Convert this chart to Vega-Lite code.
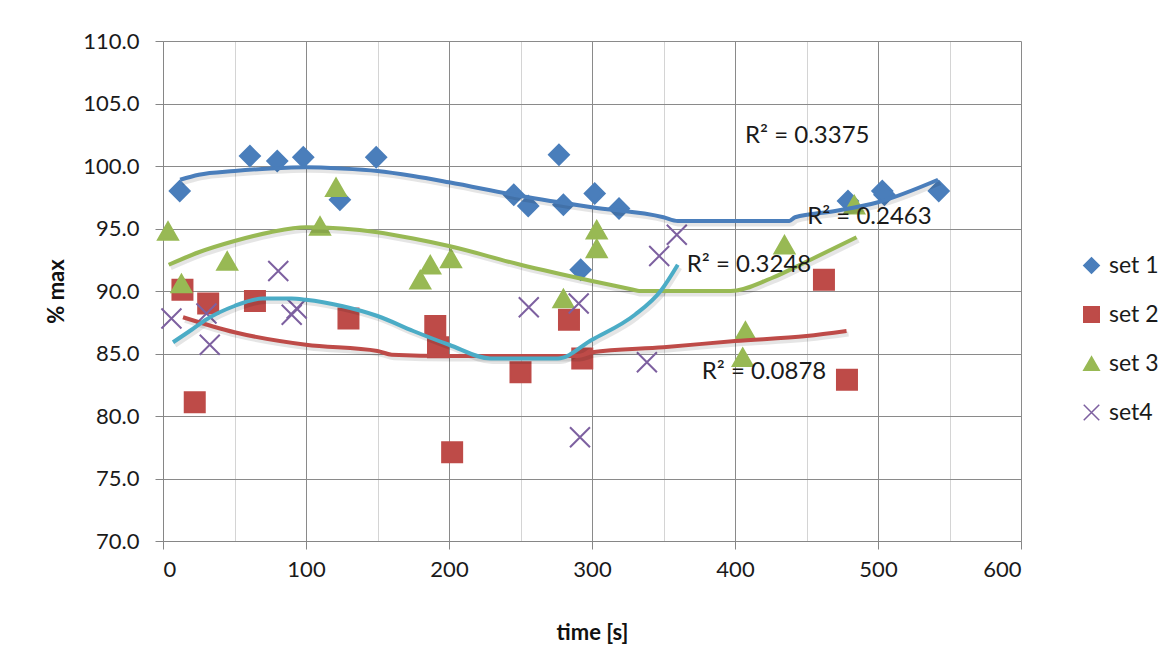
{
  "$schema": "https://vega.github.io/schema/vega-lite/v6.json",
  "autosize": {"type": "none"},
  "padding": {"left": 163, "top": 41, "right": 144, "bottom": 116},
  "width": 858,
  "height": 500,
  "background": "white",
  "config": {
    "view": {"stroke": null},
    "font": "Lato"
  },
  "datasets": {
    "points": [
      {"series": "set 1", "t": 11.7, "v": 98.0},
      {"series": "set 1", "t": 60.8, "v": 100.8},
      {"series": "set 1", "t": 79.9, "v": 100.4},
      {"series": "set 1", "t": 98.1, "v": 100.7},
      {"series": "set 1", "t": 123.7, "v": 97.3},
      {"series": "set 1", "t": 149.1, "v": 100.7},
      {"series": "set 1", "t": 245.3, "v": 97.7},
      {"series": "set 1", "t": 255.4, "v": 96.8},
      {"series": "set 1", "t": 276.9, "v": 100.9},
      {"series": "set 1", "t": 280.0, "v": 96.9},
      {"series": "set 1", "t": 292.1, "v": 91.7},
      {"series": "set 1", "t": 301.9, "v": 97.8},
      {"series": "set 1", "t": 318.9, "v": 96.6},
      {"series": "set 1", "t": 479.0, "v": 97.2},
      {"series": "set 1", "t": 503.0, "v": 98.0},
      {"series": "set 1", "t": 504.5, "v": 97.7},
      {"series": "set 1", "t": 542.5, "v": 98.0},
      {"series": "set 2", "t": 13.6, "v": 90.1},
      {"series": "set 2", "t": 22.2, "v": 81.1},
      {"series": "set 2", "t": 31.6, "v": 89.0},
      {"series": "set 2", "t": 64.3, "v": 89.2},
      {"series": "set 2", "t": 129.7, "v": 87.8},
      {"series": "set 2", "t": 190.4, "v": 87.2},
      {"series": "set 2", "t": 192.3, "v": 85.5},
      {"series": "set 2", "t": 202.2, "v": 77.1},
      {"series": "set 2", "t": 250.0, "v": 83.5},
      {"series": "set 2", "t": 283.9, "v": 87.7},
      {"series": "set 2", "t": 293.2, "v": 84.6},
      {"series": "set 2", "t": 462.2, "v": 90.9},
      {"series": "set 2", "t": 478.3, "v": 82.9},
      {"series": "set 3", "t": 3.5, "v": 94.8},
      {"series": "set 3", "t": 12.9, "v": 90.6},
      {"series": "set 3", "t": 44.9, "v": 92.4},
      {"series": "set 3", "t": 109.8, "v": 95.2},
      {"series": "set 3", "t": 121.0, "v": 98.3},
      {"series": "set 3", "t": 179.9, "v": 90.9},
      {"series": "set 3", "t": 186.9, "v": 92.1},
      {"series": "set 3", "t": 201.4, "v": 92.6},
      {"series": "set 3", "t": 280.0, "v": 89.4},
      {"series": "set 3", "t": 303.3, "v": 94.9},
      {"series": "set 3", "t": 303.3, "v": 93.4},
      {"series": "set 3", "t": 405.4, "v": 84.7},
      {"series": "set 3", "t": 407.3, "v": 86.8},
      {"series": "set 3", "t": 434.6, "v": 93.7},
      {"series": "set 3", "t": 483.4, "v": 96.9},
      {"series": "set4", "t": 5.9, "v": 87.8},
      {"series": "set4", "t": 30.4, "v": 88.2},
      {"series": "set4", "t": 32.7, "v": 85.7},
      {"series": "set4", "t": 80.6, "v": 91.6},
      {"series": "set4", "t": 90.0, "v": 88.1},
      {"series": "set4", "t": 93.5, "v": 88.6},
      {"series": "set4", "t": 255.8, "v": 88.7},
      {"series": "set4", "t": 290.7, "v": 89.0},
      {"series": "set4", "t": 291.6, "v": 78.3},
      {"series": "set4", "t": 338.4, "v": 84.3},
      {"series": "set4", "t": 347.0, "v": 92.8},
      {"series": "set4", "t": 359.3, "v": 94.5}
    ],
    "trends": [
      {"trend": "t1", "t": 12, "v": 98.9},
      {"trend": "t1", "t": 25, "v": 99.3},
      {"trend": "t1", "t": 50, "v": 99.6},
      {"trend": "t1", "t": 75, "v": 99.8},
      {"trend": "t1", "t": 100, "v": 99.9},
      {"trend": "t1", "t": 125, "v": 99.8},
      {"trend": "t1", "t": 150, "v": 99.6},
      {"trend": "t1", "t": 175, "v": 99.2},
      {"trend": "t1", "t": 200, "v": 98.7},
      {"trend": "t1", "t": 250, "v": 97.6},
      {"trend": "t1", "t": 300, "v": 96.7},
      {"trend": "t1", "t": 350, "v": 95.9},
      {"trend": "t1", "t": 360, "v": 95.6},
      {"trend": "t1", "t": 400, "v": 95.6},
      {"trend": "t1", "t": 438, "v": 95.6},
      {"trend": "t1", "t": 442, "v": 95.9},
      {"trend": "t1", "t": 470, "v": 96.4},
      {"trend": "t1", "t": 500, "v": 97.1},
      {"trend": "t1", "t": 542, "v": 98.9},
      {"trend": "t2", "t": 14, "v": 87.9},
      {"trend": "t2", "t": 50, "v": 86.7},
      {"trend": "t2", "t": 100, "v": 85.7},
      {"trend": "t2", "t": 150, "v": 85.2},
      {"trend": "t2", "t": 160, "v": 84.9},
      {"trend": "t2", "t": 200, "v": 84.8},
      {"trend": "t2", "t": 250, "v": 84.8},
      {"trend": "t2", "t": 290, "v": 84.8},
      {"trend": "t2", "t": 300, "v": 85.1},
      {"trend": "t2", "t": 350, "v": 85.5},
      {"trend": "t2", "t": 400, "v": 86.0},
      {"trend": "t2", "t": 450, "v": 86.4},
      {"trend": "t2", "t": 478, "v": 86.8},
      {"trend": "t3", "t": 4, "v": 92.1},
      {"trend": "t3", "t": 25, "v": 93.1},
      {"trend": "t3", "t": 50, "v": 94.0},
      {"trend": "t3", "t": 75, "v": 94.7},
      {"trend": "t3", "t": 100, "v": 95.1},
      {"trend": "t3", "t": 125, "v": 95.0},
      {"trend": "t3", "t": 150, "v": 94.7},
      {"trend": "t3", "t": 175, "v": 94.2},
      {"trend": "t3", "t": 200, "v": 93.6},
      {"trend": "t3", "t": 250, "v": 92.1},
      {"trend": "t3", "t": 300, "v": 90.8},
      {"trend": "t3", "t": 329, "v": 90.1},
      {"trend": "t3", "t": 333, "v": 90.0},
      {"trend": "t3", "t": 397, "v": 90.0},
      {"trend": "t3", "t": 425, "v": 91.0},
      {"trend": "t3", "t": 451, "v": 92.4},
      {"trend": "t3", "t": 485, "v": 94.3},
      {"trend": "t4", "t": 7, "v": 85.9},
      {"trend": "t4", "t": 20, "v": 86.9},
      {"trend": "t4", "t": 30, "v": 87.7},
      {"trend": "t4", "t": 50, "v": 88.8},
      {"trend": "t4", "t": 70, "v": 89.4},
      {"trend": "t4", "t": 90, "v": 89.4},
      {"trend": "t4", "t": 100, "v": 89.3},
      {"trend": "t4", "t": 125, "v": 88.8},
      {"trend": "t4", "t": 150, "v": 88.0},
      {"trend": "t4", "t": 175, "v": 86.8},
      {"trend": "t4", "t": 200, "v": 85.7},
      {"trend": "t4", "t": 229, "v": 84.6},
      {"trend": "t4", "t": 276, "v": 84.6},
      {"trend": "t4", "t": 300, "v": 86.1},
      {"trend": "t4", "t": 330, "v": 88.1},
      {"trend": "t4", "t": 348, "v": 90.0},
      {"trend": "t4", "t": 360, "v": 92.1}
    ],
    "labels": [
      {"t": 450.5, "v": 102.4, "label": "R² = 0.3375"},
      {"t": 494, "v": 95.9, "label": "R² = 0.2463"},
      {"t": 409.8, "v": 92.1, "label": "R² = 0.3248"},
      {"t": 420.3, "v": 83.5, "label": "R² = 0.0878"}
    ]
  },
  "encoding": {
    "x": {
      "field": "t", "type": "quantitative",
      "scale": {"domain": [0, 600], "nice": false, "zero": false},
      "axis": {
        "title": "time [s]",
        "values": [0, 50, 100, 150, 200, 250, 300, 350, 400, 450, 500, 550, 600],
        "format": "d",
        "labelExpr": "datum.value % 100 === 0 ? datum.label : ''",
        "labelFont": "Lato", "labelFontSize": 22, "labelColor": "#1a1a1a",
        "labelPadding": 10,
        "tickSize": 8, "tickColor": "#868686",
        "tickOpacity": {"condition": {"test": "datum.value % 100 === 0", "value": 1}, "value": 0},
        "domainColor": "#868686",
        "grid": true,
        "gridColor": {"condition": {"test": "datum.value % 100 === 0", "value": "#8a8a8a"}, "value": "#d4d4d4"},
        "gridOpacity": 1,
        "titleFont": "Lato", "titleFontSize": 22, "titleFontWeight": "bold", "titleColor": "#111",
        "titlePadding": 42
      }
    },
    "y": {
      "field": "v", "type": "quantitative",
      "scale": {"domain": [70, 110], "nice": false, "zero": false},
      "axis": {
        "title": "% max",
        "values": [70, 75, 80, 85, 90, 95, 100, 105, 110],
        "format": ".1f",
        "labelFont": "Lato", "labelFontSize": 22, "labelColor": "#1a1a1a",
        "labelPadding": 16,
        "tickSize": 8, "tickColor": "#868686",
        "domainColor": "#868686",
        "grid": true, "gridColor": "#8a8a8a", "gridOpacity": 1,
        "titleFont": "Lato", "titleFontSize": 22, "titleFontWeight": "bold", "titleColor": "#111",
        "titlePadding": 14
      }
    }
  },
  "layer": [
    {
      "data": {"name": "points"},
      "mark": {"type": "point", "filled": true, "opacity": 1, "size": 400, "strokeWidth": 2},
      "encoding": {
        "fill": {
          "field": "series", "type": "nominal",
          "scale": {"domain": ["set 1", "set 2", "set 3", "set4"], "range": ["#4A7EBB", "#BE4B48", "#98B954", "#7D60A0"]},
          "legend": {"title": null, "orient": "none", "legendX": 917, "legendY": 213, "labelFont": "Lato", "labelFontSize": 23, "labelColor": "#1a1a1a", "symbolSize": 240, "symbolStrokeWidth": 1.5, "rowPadding": 25, "labelOffset": 6, "padding": 0}
        },
        "stroke": {
          "field": "series", "type": "nominal",
          "scale": {"domain": ["set 1", "set 2", "set 3", "set4"], "range": ["#4A7EBB", "#BE4B48", "#98B954", "#7D60A0"]},
          "legend": {"title": null, "orient": "none", "legendX": 917, "legendY": 213, "labelFont": "Lato", "labelFontSize": 23, "labelColor": "#1a1a1a", "symbolSize": 240, "symbolStrokeWidth": 1.5, "rowPadding": 25, "labelOffset": 6, "padding": 0}
        },
        "shape": {
          "field": "series", "type": "nominal",
          "scale": {"domain": ["set 1", "set 2", "set 3", "set4"], "range": ["diamond", "square", "triangle-up", "M-1,-1L1,1M-1,1L1,-1"]},
          "legend": {"title": null, "orient": "none", "legendX": 917, "legendY": 213, "labelFont": "Lato", "labelFontSize": 23, "labelColor": "#1a1a1a", "symbolSize": 240, "symbolStrokeWidth": 1.5, "rowPadding": 25, "labelOffset": 6, "padding": 0}
        }
      }
    },
    {
      "data": {"name": "trends"},
      "mark": {"type": "line", "strokeWidth": 5, "color": "#000000", "opacity": 0.1, "xOffset": 2, "yOffset": 3, "interpolate": "monotone"},
      "encoding": {
        "detail": {"field": "trend", "type": "nominal"}
      }
    },
    {
      "data": {"name": "trends"},
      "mark": {"type": "line", "strokeWidth": 4, "strokeCap": "butt", "strokeJoin": "round", "interpolate": "monotone"},
      "encoding": {
        "color": {
          "field": "trend", "type": "nominal",
          "scale": {"domain": ["t1", "t2", "t3", "t4"], "range": ["#4A7EBB", "#BE4B48", "#98B954", "#4BACC6"]},
          "legend": null
        }
      }
    },
    {
      "data": {"name": "labels"},
      "mark": {"type": "text", "font": "Lato", "fontSize": 24, "color": "#1a1a1a", "align": "center", "baseline": "middle"},
      "encoding": {
        "text": {"field": "label", "type": "nominal"}
      }
    }
  ]
}
